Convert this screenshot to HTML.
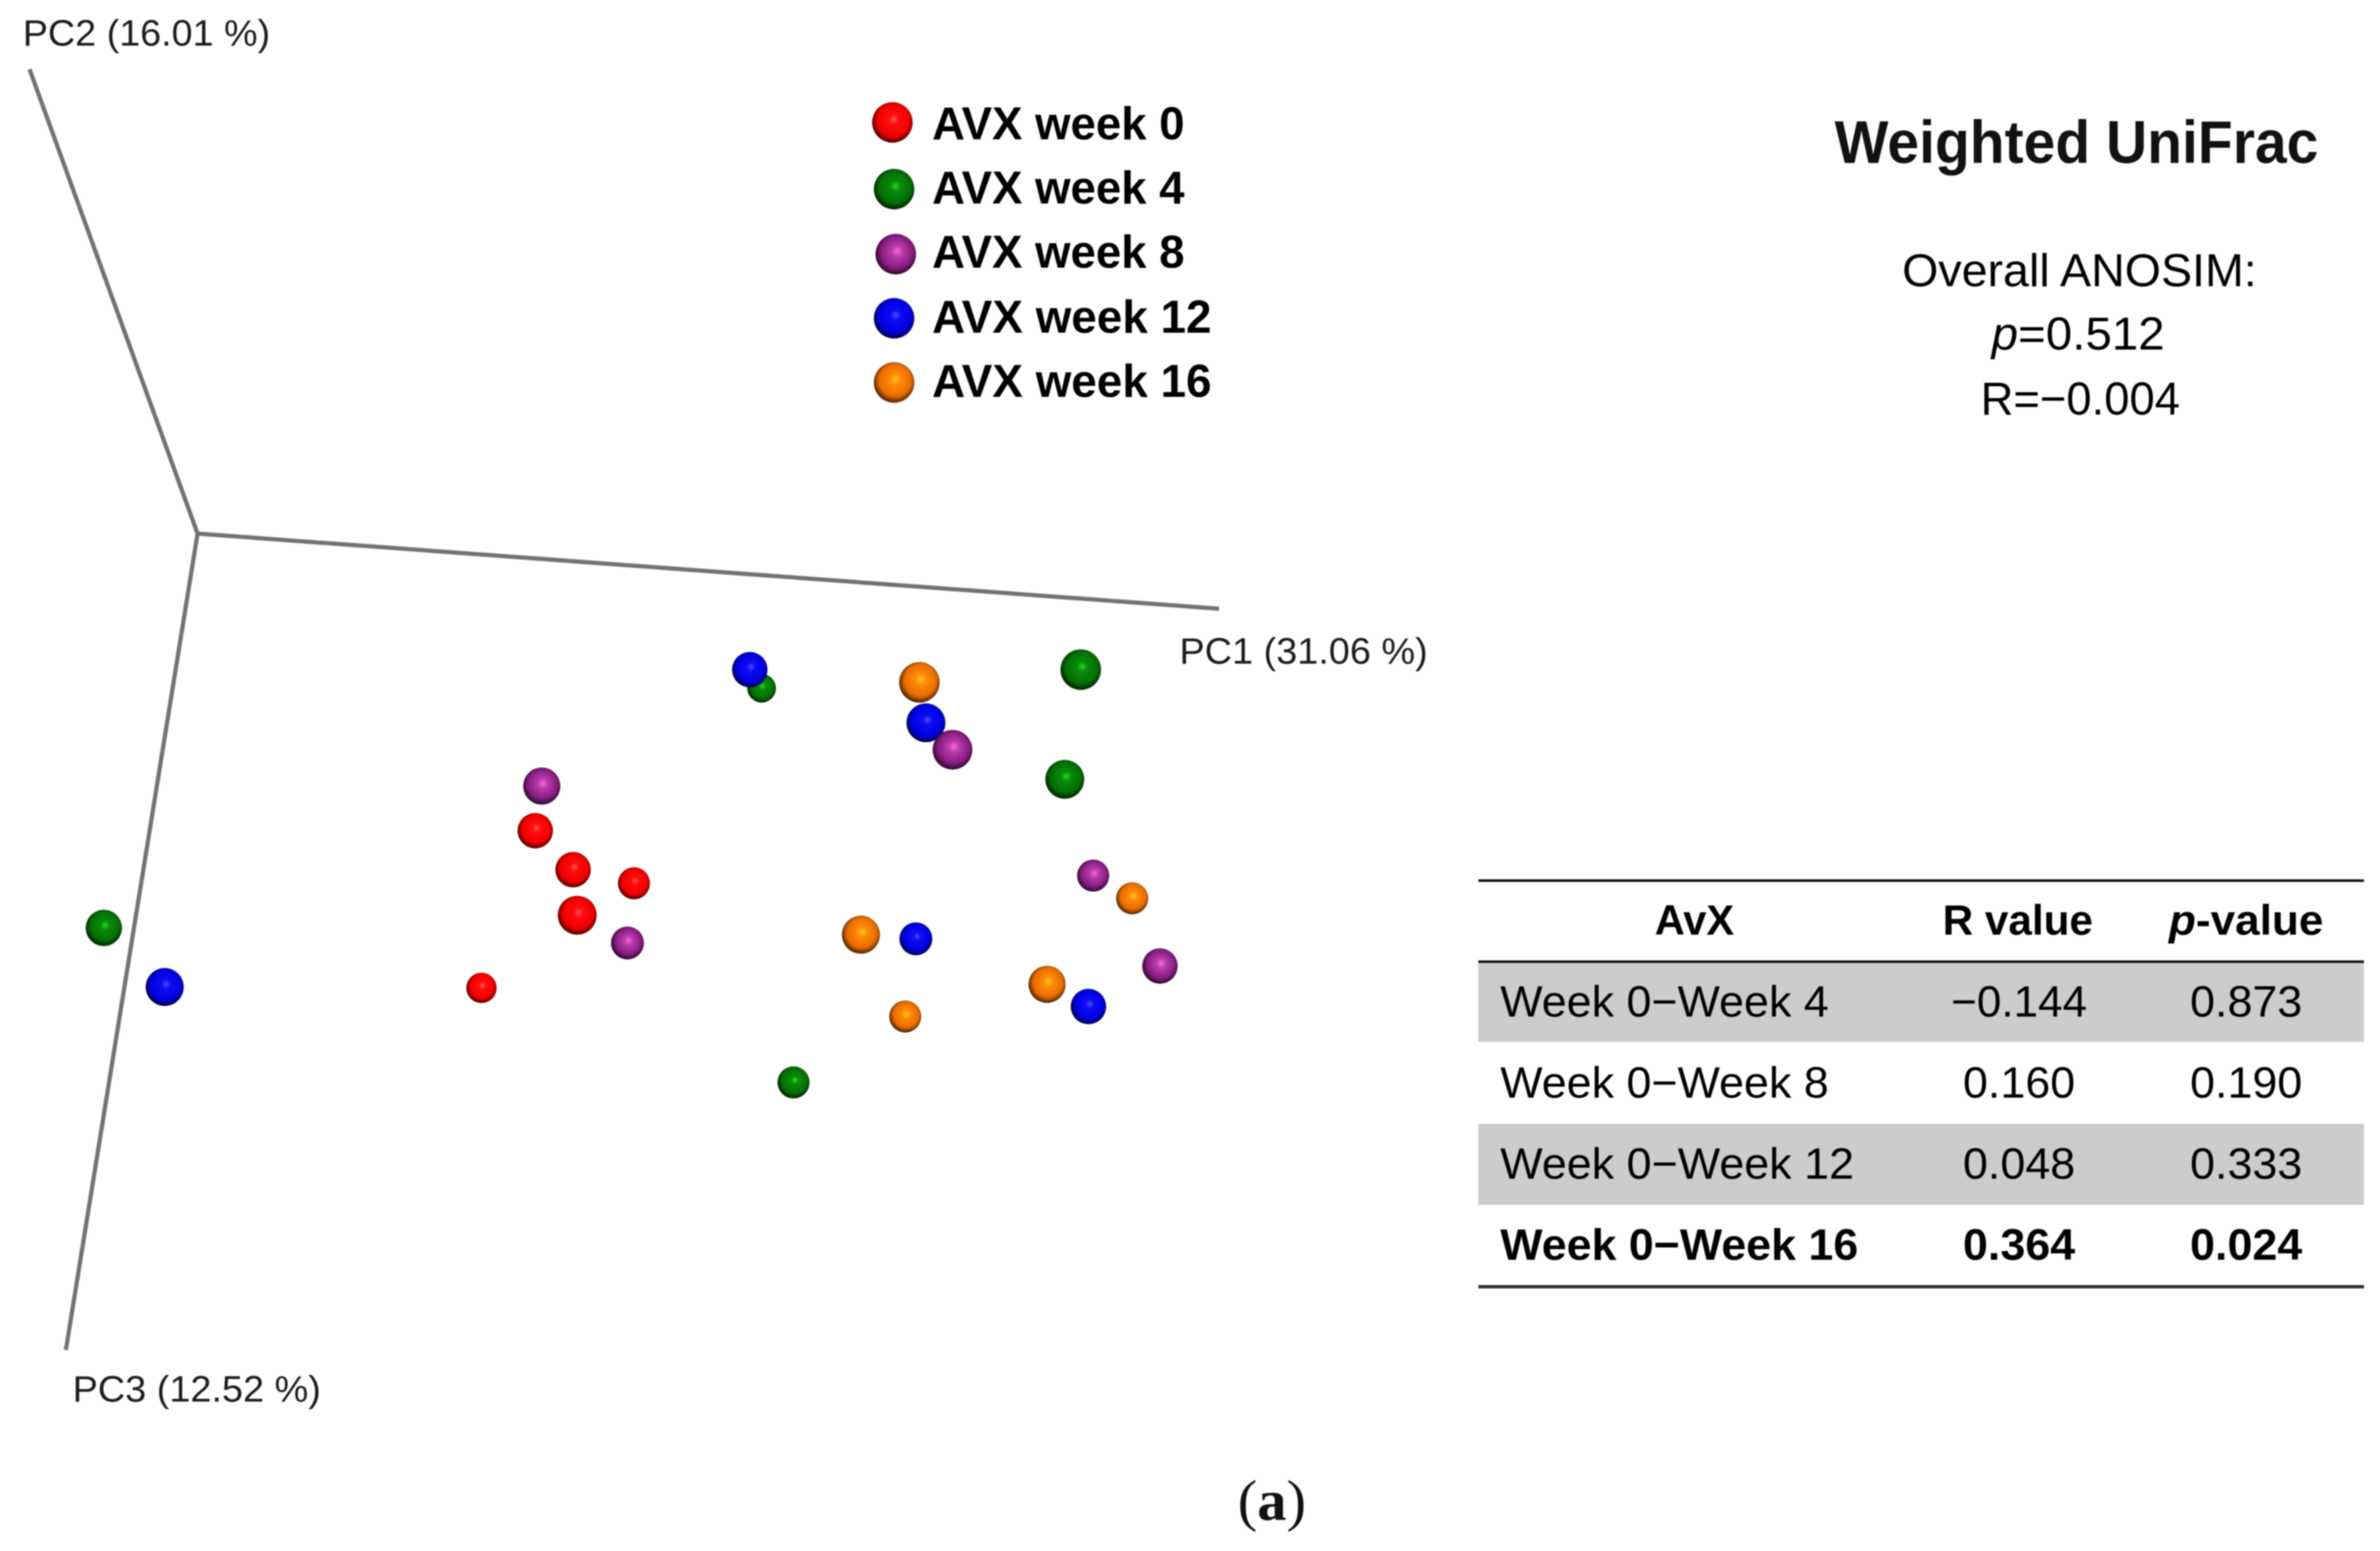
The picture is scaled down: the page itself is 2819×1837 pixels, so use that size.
<!DOCTYPE html>
<html lang="en">
<head>
<meta charset="utf-8">
<title>Weighted UniFrac PCoA</title>
<style>
html,body{margin:0;padding:0;background:#fff;width:2819px;height:1837px;overflow:hidden}
svg{display:block;filter:blur(0.8px)}
text{font-family:"Liberation Sans",sans-serif;fill:#111}
.lab{font-size:44px;fill:#1c1c1c}
.leg{font-size:55px;font-weight:bold;fill:#000}
.info{font-size:55px;fill:#000}
.hd{font-size:50px;font-weight:bold;fill:#000}
.cell{font-size:52px;fill:#000}
.b{font-weight:bold}
</style>
</head>
<body>
<svg id="fig" xmlns="http://www.w3.org/2000/svg" width="2819" height="1837" viewBox="0 0 2819 1837">
<defs>
<radialGradient id="g-red" cx=".52" cy=".46" r=".56" fx=".54" fy=".42"><stop offset="0" stop-color="#ff5a5a"/><stop offset=".22" stop-color="#ff0c0c"/><stop offset=".70" stop-color="#f00000"/><stop offset=".90" stop-color="#7a0000"/><stop offset="1" stop-color="#280000"/></radialGradient>
<radialGradient id="g-green" cx=".52" cy=".46" r=".56" fx=".54" fy=".42"><stop offset="0" stop-color="#22e022"/><stop offset=".22" stop-color="#0a8c0a"/><stop offset=".70" stop-color="#046e04"/><stop offset=".90" stop-color="#023402"/><stop offset="1" stop-color="#001400"/></radialGradient>
<radialGradient id="g-purple" cx=".52" cy=".46" r=".56" fx=".54" fy=".42"><stop offset="0" stop-color="#ff66e6"/><stop offset=".25" stop-color="#b83ca8"/><stop offset=".70" stop-color="#861c80"/><stop offset=".90" stop-color="#420c40"/><stop offset="1" stop-color="#1c041c"/></radialGradient>
<radialGradient id="g-blue" cx=".52" cy=".46" r=".56" fx=".54" fy=".42"><stop offset="0" stop-color="#5050ff"/><stop offset=".22" stop-color="#0c0cf6"/><stop offset=".70" stop-color="#0000e0"/><stop offset=".90" stop-color="#00006c"/><stop offset="1" stop-color="#000028"/></radialGradient>
<radialGradient id="g-orange" cx=".52" cy=".46" r=".56" fx=".54" fy=".42"><stop offset="0" stop-color="#ffc820"/><stop offset=".25" stop-color="#ff8a08"/><stop offset=".70" stop-color="#e86c00"/><stop offset=".90" stop-color="#703400"/><stop offset="1" stop-color="#281200"/></radialGradient>
</defs>

<g stroke="#727272" stroke-width="5" fill="none">
  <line x1="234" y1="632" x2="35" y2="82"/>
  <line x1="234" y1="632" x2="1444" y2="721"/>
  <line x1="234" y1="632" x2="78" y2="1599"/>
</g>
<text class="lab" x="27" y="54" textLength="293" lengthAdjust="spacingAndGlyphs">PC2 (16.01 %)</text>
<text class="lab" x="1397" y="786" textLength="294" lengthAdjust="spacingAndGlyphs">PC1 (31.06 %)</text>
<text class="lab" x="86" y="1660" textLength="294" lengthAdjust="spacingAndGlyphs">PC3 (12.52 %)</text>

<g id="points"></g>

<g>
  <g><circle cx="1057" cy="145" r="24" fill="url(#g-red)"/><text class="leg" x="1104" y="165" textLength="299" lengthAdjust="spacingAndGlyphs">AVX week 0</text></g>
  <g><circle cx="1059" cy="224" r="24" fill="url(#g-green)"/><text class="leg" x="1104" y="241" textLength="299" lengthAdjust="spacingAndGlyphs">AVX week 4</text></g>
  <g><circle cx="1061" cy="301" r="24" fill="url(#g-purple)"/><text class="leg" x="1104" y="317" textLength="299" lengthAdjust="spacingAndGlyphs">AVX week 8</text></g>
  <g><circle cx="1059" cy="377" r="24" fill="url(#g-blue)"/><text class="leg" x="1104" y="394" textLength="331" lengthAdjust="spacingAndGlyphs">AVX week 12</text></g>
  <g><circle cx="1059" cy="453" r="24" fill="url(#g-orange)"/><text class="leg" x="1104" y="470" textLength="331" lengthAdjust="spacingAndGlyphs">AVX week 16</text></g>
</g>

<text x="2173" y="193" font-size="71" font-weight="bold" fill="#000" textLength="573" lengthAdjust="spacingAndGlyphs">Weighted UniFrac</text>
<g>
  <text class="info" x="2253" y="339" textLength="420" lengthAdjust="spacingAndGlyphs">Overall ANOSIM:</text>
  <text class="info" x="2359" y="414" textLength="205" lengthAdjust="spacingAndGlyphs"><tspan font-style="italic">p</tspan>=0.512</text>
  <text class="info" x="2346" y="491" textLength="236" lengthAdjust="spacingAndGlyphs">R=−0.004</text>
</g>

<g>
  <rect x="1751" y="1139" width="1049" height="95" fill="#cccccc"/>
  <rect x="1751" y="1331" width="1049" height="96" fill="#cccccc"/>
  <line x1="1751" y1="1043" x2="2800" y2="1043" stroke="#111" stroke-width="3"/>
  <line x1="1751" y1="1139" x2="2800" y2="1139" stroke="#111" stroke-width="3"/>
  <line x1="1751" y1="1524" x2="2800" y2="1524" stroke="#333" stroke-width="4"/>

  <text class="hd" x="1960" y="1107" textLength="94" lengthAdjust="spacingAndGlyphs">AvX</text>
  <text class="hd" x="2301" y="1107" textLength="178" lengthAdjust="spacingAndGlyphs">R value</text>
  <text class="hd" x="2569" y="1107" textLength="183" lengthAdjust="spacingAndGlyphs"><tspan font-style="italic">p</tspan>-value</text>

  <text class="cell" x="1777" y="1204" textLength="389" lengthAdjust="spacingAndGlyphs">Week 0−Week 4</text>
  <text class="cell" x="2311" y="1204" textLength="161" lengthAdjust="spacingAndGlyphs">−0.144</text>
  <text class="cell" x="2594" y="1204" textLength="133" lengthAdjust="spacingAndGlyphs">0.873</text>

  <text class="cell" x="1777" y="1300" textLength="389" lengthAdjust="spacingAndGlyphs">Week 0−Week 8</text>
  <text class="cell" x="2325" y="1300" textLength="133" lengthAdjust="spacingAndGlyphs">0.160</text>
  <text class="cell" x="2594" y="1300" textLength="133" lengthAdjust="spacingAndGlyphs">0.190</text>

  <text class="cell" x="1777" y="1396" textLength="419" lengthAdjust="spacingAndGlyphs">Week 0−Week 12</text>
  <text class="cell" x="2325" y="1396" textLength="133" lengthAdjust="spacingAndGlyphs">0.048</text>
  <text class="cell" x="2594" y="1396" textLength="133" lengthAdjust="spacingAndGlyphs">0.333</text>

  <text class="cell b" x="1777" y="1492" textLength="424" lengthAdjust="spacingAndGlyphs">Week 0−Week 16</text>
  <text class="cell b" x="2325" y="1492" textLength="133" lengthAdjust="spacingAndGlyphs">0.364</text>
  <text class="cell b" x="2594" y="1492" textLength="133" lengthAdjust="spacingAndGlyphs">0.024</text>
</g>

<text x="1466" y="1800" font-size="68" fill="#000" style="font-family:'Liberation Serif',serif" textLength="81" lengthAdjust="spacingAndGlyphs">(<tspan font-weight="bold">a</tspan>)</text>
</svg>

<script>
// Projected PCoA scores: horizontal score, vertical score, depth toward the viewer
const week0H = [-0.18, -0.116, -0.013, -0.109, -0.271];
const week0V = [0.049, -0.083, -0.129, -0.237, -0.483];
const week0D = [0, 0, -0.4, 0.4, -0.6];

const week4H = [0.203, 0.743, 0.716, 0.257, -0.91];
const week4V = [0.531, 0.594, 0.223, -0.803, -0.28];
const week4D = [-0.8, 0.6, 0.4, -0.4, 0.1];

const week8H = [-0.169, 0.526, -0.024, 0.764, 0.877];
const week8V = [0.2, 0.323, -0.331, -0.103, -0.409];
const week8D = [0.2, 0.5, -0.3, -0.4, 0];

const week12H = [0.183, 0.481, 0.464, 0.756, -0.807];
const week12V = [0.594, 0.414, -0.317, -0.546, -0.48];
const week12D = [0, 0.4, -0.3, 0, 0.3];

const week16H = [0.47, 0.371, 0.83, 0.686, 0.446];
const week16V = [0.551, -0.303, -0.18, -0.471, -0.58];
const week16D = [0.6, 0.3, -0.4, 0.2, -0.4];

function scaleH(v) { return 760 + v * 700; }
function scaleV(v) { return 1001 - v * 350; }
function scaleR(v) { return 21 + v * 5; }

function drawSeries(seriesName, gradient, hs, vs, ds) {
  const layer = document.getElementById('points');
  hs.forEach(function (h, i) {
    const c = document.createElementNS('http://www.w3.org/2000/svg', 'circle');
    c.setAttribute('cx', scaleH(h));
    c.setAttribute('cy', scaleV(vs[i]));
    c.setAttribute('r', scaleR(ds[i]));
    c.setAttribute('fill', 'url(#' + gradient + ')');
    
    
    layer.appendChild(c);
  });
}

drawSeries('week-0', 'g-red', week0H, week0V, week0D);
drawSeries('week-4', 'g-green', week4H, week4V, week4D);
drawSeries('week-16', 'g-orange', week16H, week16V, week16D);
drawSeries('week-12', 'g-blue', week12H, week12V, week12D);
drawSeries('week-8', 'g-purple', week8H, week8V, week8D);
</script>
</body>
</html>
